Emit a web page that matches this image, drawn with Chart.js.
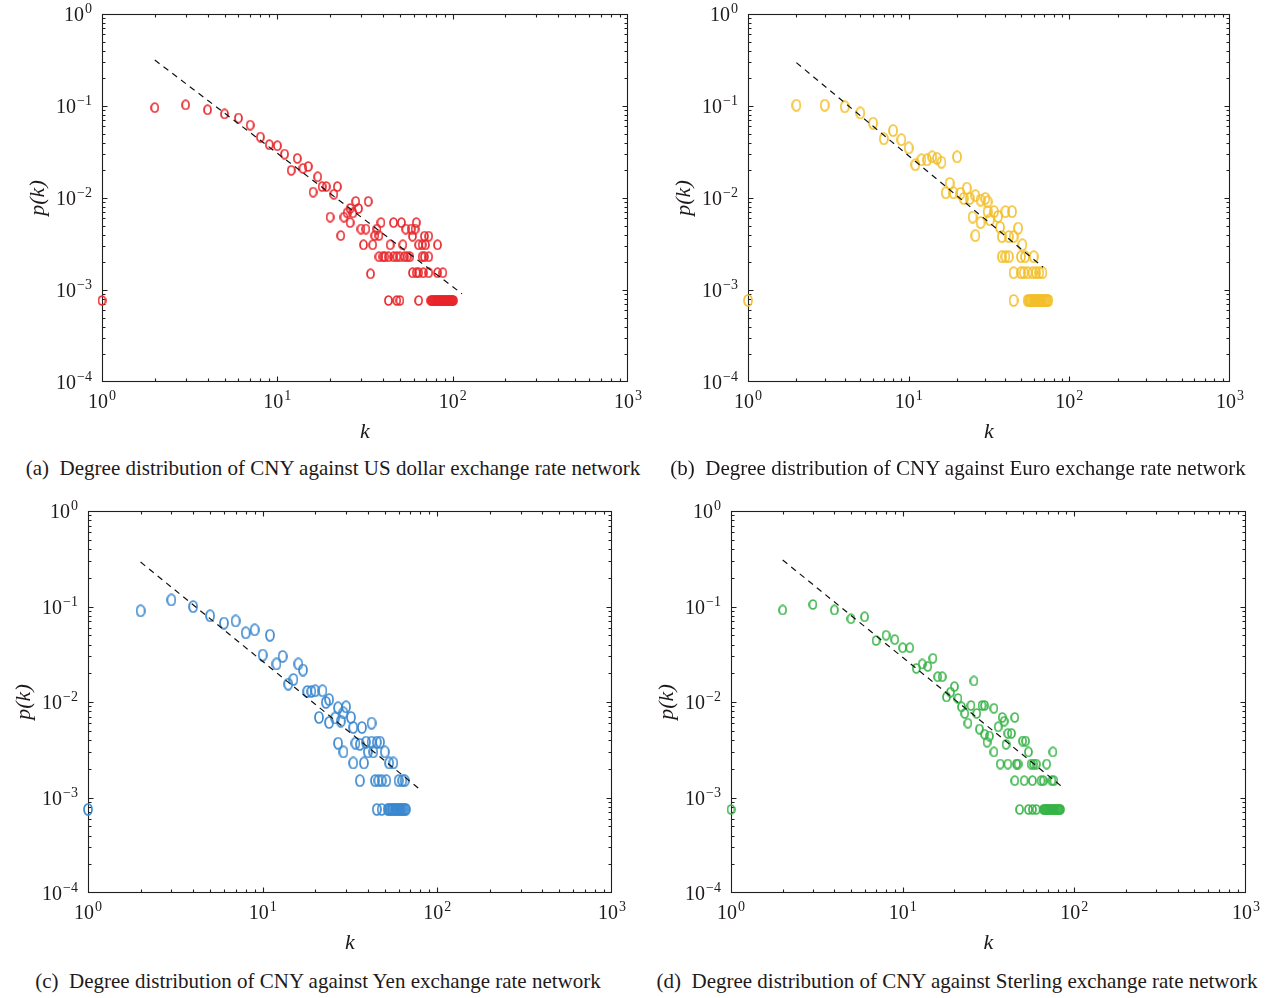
<!DOCTYPE html>
<html>
<head>
<meta charset="utf-8">
<title>Degree distribution of CNY exchange rate networks</title>
<script src="https://cdn.jsdelivr.net/npm/chart.js@4.4.1/dist/chart.umd.min.js"></script>
<style>
  body { margin: 0; background: #fff; width: 1271px; height: 998px; position: relative; overflow: hidden; }
  canvas { position: absolute; }
  .cap { position: absolute; transform: translate(-50%, -50%); white-space: pre;
         font-family: "Liberation Serif", "Times New Roman", serif; font-size: 21px; color: #1e1a1b; }
</style>
</head>
<body>
<canvas id="chartA" width="660" height="450" style="left:0;top:0"></canvas>
<canvas id="chartB" width="631" height="450" style="left:640px;top:0"></canvas>
<canvas id="chartC" width="640" height="470" style="left:0;top:490px"></canvas>
<canvas id="chartD" width="631" height="470" style="left:640px;top:490px"></canvas>
<div class="cap" style="left:333px;top:468px">(a)  Degree distribution of CNY against US dollar exchange rate network</div>
<div class="cap" style="left:958px;top:468px">(b)  Degree distribution of CNY against Euro exchange rate network</div>
<div class="cap" style="left:318px;top:981px">(c)  Degree distribution of CNY against Yen exchange rate network</div>
<div class="cap" style="left:957px;top:981px">(d)  Degree distribution of CNY against Sterling exchange rate network</div>
<script>
// degree k and probability p(k) for each network
var kUSD = [1, 2, 3, 4, 5, 6, 7, 8, 9, 10, 11, 12, 13, 14, 15, 16, 17, 18, 19, 20,
  21, 22, 23, 24, 25, 26, 26, 27, 28, 29, 30, 31, 32, 33, 34, 35, 36, 37, 38, 39,
  46, 51, 62, 54, 58, 61, 59, 69, 73,
  44, 52, 64, 67, 70, 82,
  38, 40, 41, 43, 46, 48, 50, 53, 55, 57, 67, 69, 73,
  59, 62, 64, 68, 73, 82, 88,
  43, 48, 50, 64, 75, 76, 77, 78, 79, 80, 81, 82, 83, 84, 85, 86, 87, 88, 89, 90,
  91, 92, 93, 94, 95, 96, 97, 98, 99, 100, 101];
var pUSD = [7.7e-4, 0.096, 0.103, 0.091, 0.082, 0.074, 0.062, 0.046, 0.038, 0.037, 0.030, 0.020, 0.027, 0.021, 0.022, 0.0116, 0.017, 0.0133, 0.0133, 0.0062,
  0.011, 0.0133, 0.0039, 0.0062, 0.0069, 0.0054, 0.0077, 0.0069, 0.0092, 0.0077, 0.0046, 0.0031, 0.0046, 0.0092, 0.0015, 0.0031, 0.0039, 0.0046, 0.0039, 0.0054,
  5.4e-3, 5.4e-3, 5.4e-3, 4.6e-3, 4.6e-3, 4.6e-3, 3.85e-3, 3.85e-3, 3.85e-3,
  3.1e-3, 3.1e-3, 3.1e-3, 3.1e-3, 3.1e-3, 3.1e-3,
  2.3e-3, 2.3e-3, 2.3e-3, 2.3e-3, 2.3e-3, 2.3e-3, 2.3e-3, 2.3e-3, 2.3e-3, 2.3e-3, 2.3e-3, 2.3e-3, 2.3e-3,
  1.54e-3, 1.54e-3, 1.54e-3, 1.54e-3, 1.54e-3, 1.54e-3, 1.54e-3,
  7.7e-4, 7.7e-4, 7.7e-4, 7.7e-4, 7.7e-4, 7.7e-4, 7.7e-4, 7.7e-4, 7.7e-4, 7.7e-4, 7.7e-4, 7.7e-4, 7.7e-4, 7.7e-4, 7.7e-4, 7.7e-4, 7.7e-4, 7.7e-4, 7.7e-4, 7.7e-4,
  7.7e-4, 7.7e-4, 7.7e-4, 7.7e-4, 7.7e-4, 7.7e-4, 7.7e-4, 7.7e-4, 7.7e-4, 7.7e-4, 7.7e-4];

var kEUR = [1, 2, 3, 4, 5, 6, 7, 8, 9, 10, 11, 12, 13, 14, 15, 16, 17, 18, 19, 20,
  21, 22, 23, 24, 25, 26, 26, 28, 28, 30, 31, 31, 32, 34, 36, 37, 38, 40, 44, 42, 45, 48, 51,
  38, 40, 42, 50, 53, 60,
  45, 50, 52, 55, 59, 62, 65, 68,
  45, 55, 56, 57, 58, 59, 60, 61, 62, 63, 64, 65, 66, 67, 68, 69, 70, 71, 72, 73, 74];
var pEUR = [7.7e-4, 0.102, 0.102, 0.098, 0.084, 0.065, 0.044, 0.054, 0.043, 0.035, 0.023, 0.026, 0.026, 0.028, 0.027, 0.0245, 0.0114, 0.0144, 0.0114, 0.028,
  0.0112, 0.0099, 0.0128, 0.0099, 0.0062, 0.0039, 0.0106, 0.0095, 0.0054, 0.0099, 0.0091, 0.0071, 0.0058, 0.0071, 0.0063, 0.0048, 0.0038, 0.0071, 0.0071, 0.0038, 0.0038, 0.0047, 0.0031,
  2.3e-3, 2.3e-3, 2.3e-3, 2.3e-3, 2.3e-3, 2.3e-3,
  1.54e-3, 1.54e-3, 1.54e-3, 1.54e-3, 1.54e-3, 1.54e-3, 1.54e-3, 1.54e-3,
  7.7e-4, 7.7e-4, 7.7e-4, 7.7e-4, 7.7e-4, 7.7e-4, 7.7e-4, 7.7e-4, 7.7e-4, 7.7e-4, 7.7e-4, 7.7e-4, 7.7e-4, 7.7e-4, 7.7e-4, 7.7e-4, 7.7e-4, 7.7e-4, 7.7e-4, 7.7e-4, 7.7e-4];

var kJPY = [1, 2, 3, 4, 5, 6, 7, 8, 9, 10, 11, 12, 13, 14, 15, 16, 17, 18, 19, 20,
  21, 22, 23, 24, 24, 26, 27, 27, 28, 29, 29, 30, 32, 33, 34, 36, 37, 42,
  39, 42, 45, 47, 40, 43, 50,
  33, 38, 53, 56,
  36, 44, 46, 48, 51, 60, 63, 65,
  45, 48, 52, 53, 54, 55, 56, 57, 58, 59, 60, 61, 62, 63, 64, 65, 66];
var pJPY = [7.5e-4, 0.090, 0.117, 0.0996, 0.080, 0.067, 0.0705, 0.053, 0.057, 0.031, 0.050, 0.025, 0.030, 0.0154, 0.0172, 0.025, 0.0216, 0.0129, 0.0129, 0.0131,
  0.0069, 0.0131, 0.0099, 0.0061, 0.0106, 0.0068, 0.0087, 0.0037, 0.0063, 0.0077, 0.0030, 0.0089, 0.0069, 0.0054, 0.0037, 0.0036, 0.0054, 0.0060,
  3.8e-3, 3.8e-3, 3.8e-3, 3.8e-3, 3.0e-3, 3.0e-3, 3.0e-3,
  2.3e-3, 2.3e-3, 2.3e-3, 2.3e-3,
  1.5e-3, 1.5e-3, 1.5e-3, 1.5e-3, 1.5e-3, 1.5e-3, 1.5e-3, 1.5e-3,
  7.5e-4, 7.5e-4, 7.5e-4, 7.5e-4, 7.5e-4, 7.5e-4, 7.5e-4, 7.5e-4, 7.5e-4, 7.5e-4, 7.5e-4, 7.5e-4, 7.5e-4, 7.5e-4, 7.5e-4, 7.5e-4, 7.5e-4];

var kGBP = [1, 2, 3, 4, 5, 6, 7, 8, 9, 10, 11, 12, 13, 14, 15, 16, 17, 18, 19, 20,
  21, 22, 23, 24, 25, 26, 27, 28, 29, 30, 30, 31, 32, 34, 34, 36, 38, 39, 40, 41,
  43, 45, 50, 52, 54, 75,
  37, 41, 46, 47, 56, 58, 60, 69,
  45, 51, 57, 64, 66, 74, 76,
  48, 54, 57, 60, 66, 67, 68, 69, 70, 71, 72, 73, 74, 75, 76, 77, 78, 79, 80, 81, 82, 83];
var pGBP = [7.5e-4, 0.092, 0.105, 0.092, 0.0745, 0.078, 0.044, 0.050, 0.045, 0.037, 0.037, 0.0225, 0.025, 0.0236, 0.0287, 0.0184, 0.0184, 0.0113, 0.0127, 0.0145,
  0.0109, 0.0089, 0.0076, 0.006, 0.0092, 0.0166, 0.0076, 0.0052, 0.0092, 0.0092, 0.0046, 0.0038, 0.0044, 0.0030, 0.0086, 0.0055, 0.0069, 0.0063, 0.0036, 0.0047,
  0.0047, 0.0069, 0.0039, 0.0039, 0.0030, 0.0030,
  2.24e-3, 2.24e-3, 2.24e-3, 2.24e-3, 2.24e-3, 2.24e-3, 2.24e-3, 2.24e-3,
  1.5e-3, 1.5e-3, 1.5e-3, 1.5e-3, 1.5e-3, 1.5e-3, 1.5e-3,
  7.5e-4, 7.5e-4, 7.5e-4, 7.5e-4, 7.5e-4, 7.5e-4, 7.5e-4, 7.5e-4, 7.5e-4, 7.5e-4, 7.5e-4, 7.5e-4, 7.5e-4, 7.5e-4, 7.5e-4, 7.5e-4, 7.5e-4, 7.5e-4, 7.5e-4, 7.5e-4, 7.5e-4, 7.5e-4];

// power-law fit lines (end points)
var fitK_USD = [2, 113], fitP_USD = [0.316, 9.1e-4];
var fitK_EUR = [2, 68.6], fitP_EUR = [0.296, 1.77e-3];
var fitK_JPY = [2, 79.3], fitP_JPY = [0.292, 1.22e-3];
var fitK_GBP = [2, 86], fitP_GBP = [0.307, 1.27e-3];

// decade exponents for the tick labels
var xExps = [0, 1, 2, 3];
var yExps = [-4, -3, -2, -1, 0];

var SERIF = '"Liberation Serif", "Times New Roman", serif';

// hollow ellipse marker
function ring(w, h, color) {
    var c = document.createElement('canvas');
    c.width = w;
    c.height = h;
    var g = c.getContext('2d');
    g.strokeStyle = color;
    g.lineWidth = 1.7;
    g.beginPath();
    g.ellipse(w / 2, h / 2, w / 2 - 1, h / 2 - 1, 0, 0, Math.PI * 2);
    g.stroke();
    return c;
}

// draws "10" with a raised exponent
function drawPow(ctx, exp, x, y, align) {
    var base = '10';
    var sup = exp < 0 ? '\u2212' + Math.abs(exp) : String(exp);
    ctx.font = '20px ' + SERIF;
    var wb = ctx.measureText(base).width;
    ctx.font = '14px ' + SERIF;
    var ws = ctx.measureText(sup).width + 1;
    var x0 = align === 'right' ? x - wb - ws : x - (wb + ws) / 2;
    ctx.textAlign = 'left';
    ctx.textBaseline = 'alphabetic';
    ctx.font = '20px ' + SERIF;
    ctx.fillText(base, x0, y);
    ctx.font = '14px ' + SERIF;
    ctx.fillText(sup, x0 + wb + 1, y - 8);
}

// box axes with inward log ticks, tick labels and axis titles
var logFrame = {
    id: 'logFrame',
    beforeDatasetsDraw: function (chart) {
        var ctx = chart.ctx, a = chart.chartArea;
        var xs = chart.scales.x, ys = chart.scales.y;
        var L = Math.round(a.left) + 0.5, R = Math.round(a.right) - 0.5;
        var T = Math.round(a.top) + 0.5, B = Math.round(a.bottom) - 0.5;
        ctx.save();
        ctx.strokeStyle = '#1f1f1f';
        ctx.lineWidth = 1.1;
        ctx.strokeRect(L, T, R - L, B - T);
        ctx.beginPath();
        xExps.forEach(function (e) {
            for (var m = 1; m < 10; m++) {
                var v = m * Math.pow(10, e);
                if (v > 1000 || (m === 1 && (e === 0 || e === 3))) continue;
                var px = Math.round(xs.getPixelForValue(v)) + 0.5;
                var len = m === 1 ? 5 : 3;
                ctx.moveTo(px, B); ctx.lineTo(px, B - len);
                ctx.moveTo(px, T); ctx.lineTo(px, T + len);
            }
        });
        yExps.forEach(function (e) {
            for (var m = 1; m < 10; m++) {
                var v = m * Math.pow(10, e);
                if (v >= 1 || (m === 1 && e === -4)) continue;
                var py = Math.round(ys.getPixelForValue(v)) + 0.5;
                var len = m === 1 ? 5 : 3;
                ctx.moveTo(L, py); ctx.lineTo(L + len, py);
                ctx.moveTo(R, py); ctx.lineTo(R - len, py);
            }
        });
        ctx.stroke();

        ctx.fillStyle = '#1e1a1b';
        xExps.forEach(function (e) {
            drawPow(ctx, e, xs.getPixelForValue(Math.pow(10, e)), a.bottom + 26, 'center');
        });
        yExps.forEach(function (e) {
            drawPow(ctx, e, a.left - 10, ys.getPixelForValue(Math.pow(10, e)) + 7, 'right');
        });

        ctx.font = 'italic 22px ' + SERIF;
        ctx.textAlign = 'center';
        ctx.textBaseline = 'middle';
        ctx.fillText('k', (a.left + a.right) / 2, a.bottom + 50);
        ctx.translate(a.left - 64, (a.top + a.bottom) / 2);
        ctx.rotate(-Math.PI / 2);
        ctx.fillText('p(k)', 0, 0);
        ctx.restore();
    }
};

function makeChart(id, ks, ps, fitK, fitP, marker, pad) {
    var points = ks.map(function (k, i) { return { x: k, y: ps[i] }; });
    var fit = fitK.map(function (k, i) { return { x: k, y: fitP[i] }; });
    return new Chart(document.getElementById(id).getContext('2d'), {
        type: 'scatter',
        data: {
            datasets: [{
                data: fit,
                showLine: true,
                borderColor: '#111',
                borderWidth: 1.2,
                borderDash: [6, 5],
                pointRadius: 0,
                clip: false
            }, {
                data: points,
                pointStyle: marker,
                pointRadius: 5,
                clip: false
            }]
        },
        options: {
            responsive: false,
            animation: false,
            events: [],
            layout: { padding: pad },
            plugins: { legend: { display: false }, tooltip: { enabled: false } },
            scales: {
                x: { type: 'logarithmic', min: 1, max: 1000, display: false },
                y: { type: 'logarithmic', min: 1e-4, max: 1, display: false }
            }
        },
        plugins: [logFrame]
    });
}

makeChart('chartA', kUSD, pUSD, fitK_USD, fitP_USD, ring(9, 11, '#e8262b'),
    { left: 102, top: 14, right: 32, bottom: 68 });
makeChart('chartB', kEUR, pEUR, fitK_EUR, fitP_EUR, ring(10, 13, '#f3bf2a'),
    { left: 108, top: 14, right: 41, bottom: 68 });
makeChart('chartC', kJPY, pJPY, fitK_JPY, fitP_JPY, ring(10, 13, '#3a88cf'),
    { left: 88, top: 21, right: 28, bottom: 67 });
makeChart('chartD', kGBP, pGBP, fitK_GBP, fitP_GBP, ring(9, 11, '#38b448'),
    { left: 91, top: 21, right: 25, bottom: 67 });
</script>
</body>
</html>
